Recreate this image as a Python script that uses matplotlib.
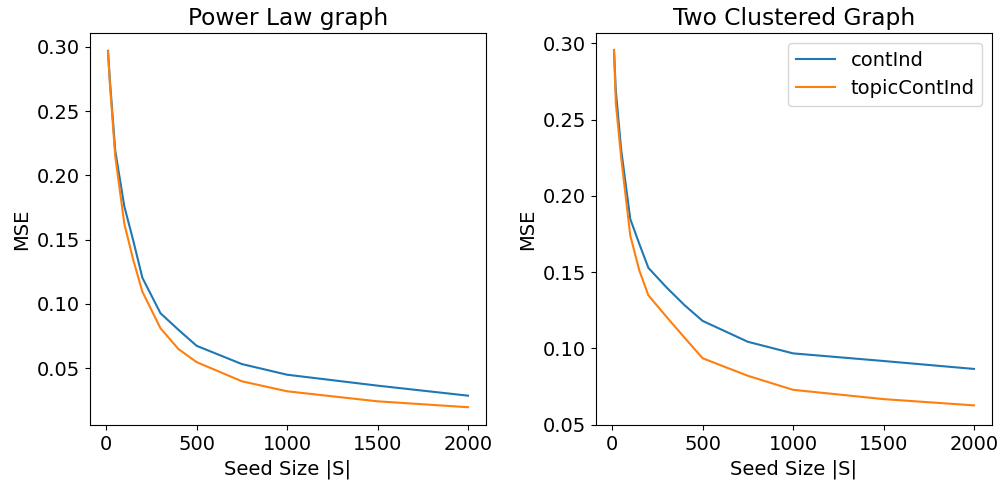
import matplotlib
matplotlib.use("Agg")
import matplotlib.pyplot as plt

# seed sizes |S|
seeds = [10, 20, 50, 100, 150, 200, 300, 400, 500, 750, 1000, 1500, 2000]

# Power Law graph
pl_contInd = [0.2969, 0.2749, 0.2193, 0.1760, 0.1490, 0.1203, 0.0927, 0.0797, 0.0673, 0.0531, 0.0448, 0.0363, 0.0285]
pl_topicContInd = [0.2965, 0.2720, 0.2150, 0.1625, 0.1340, 0.1095, 0.0810, 0.0647, 0.0546, 0.0397, 0.0319, 0.0241, 0.0195]

# Two Clustered Graph
tc_contInd = [0.2957, 0.2690, 0.2300, 0.1848, 0.1685, 0.1528, 0.1400, 0.1283, 0.1180, 0.1043, 0.0967, 0.0917, 0.0865]
tc_topicContInd = [0.2957, 0.2609, 0.2246, 0.1740, 0.1511, 0.1348, 0.1207, 0.1070, 0.0935, 0.0820, 0.0728, 0.0667, 0.0626]

plt.rcParams["font.size"] = 14

fig = plt.figure(figsize=(10.01, 4.83), dpi=100)
ax1 = fig.add_axes([0.0899, 0.120, 0.3956, 0.8116])
ax2 = fig.add_axes([0.5954, 0.120, 0.3956, 0.8116])

ax1.plot(seeds, pl_contInd, label="contInd")
ax1.plot(seeds, pl_topicContInd, label="topicContInd")
ax1.set_title("Power Law graph")
ax1.set_xlabel("Seed Size |S|")
ax1.set_ylabel("MSE")
ax1.set_xticks([0, 500, 1000, 1500, 2000])

ax2.plot(seeds, tc_contInd, label="contInd")
ax2.plot(seeds, tc_topicContInd, label="topicContInd")
ax2.set_title("Two Clustered Graph")
ax2.set_xlabel("Seed Size |S|")
ax2.set_ylabel("MSE")
ax2.set_xticks([0, 500, 1000, 1500, 2000])
ax2.set_ylim(0.0497, 0.3068)
ax2.legend(loc="upper right")

fig.savefig("out.png", dpi=100)
